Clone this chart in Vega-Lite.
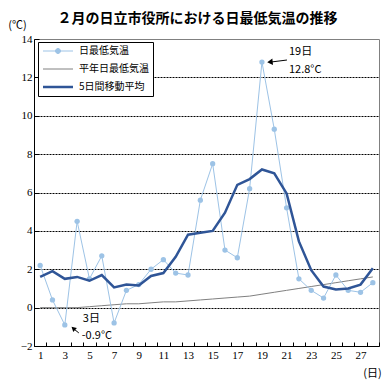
{
  "$schema": "https://vega.github.io/schema/vega-lite/v6.json",
  "width": 345,
  "height": 307,
  "autosize": {"type": "none"},
  "padding": {"left": 34, "top": 39, "right": 9, "bottom": 44},
  "background": "white",
  "title": {
    "text": "２月の日立市役所における日最低気温の推移",
    "font": "Noto Sans CJK JP",
    "fontSize": 14,
    "fontWeight": "bold",
    "color": "black",
    "anchor": "middle",
    "frame": "group",
    "dx": -9,
    "offset": -18,
    "baseline": "alphabetic"
  },
  "config": {
    "view": {"stroke": "#808080", "strokeWidth": 1},
    "font": "Noto Sans CJK JP"
  },
  "datasets": {
    "temps": [
      {"day": 1, "series": "平年日最低気温", "value": 0.0},
      {"day": 2, "series": "平年日最低気温", "value": 0.0},
      {"day": 3, "series": "平年日最低気温", "value": 0.0},
      {"day": 4, "series": "平年日最低気温", "value": 0.0},
      {"day": 5, "series": "平年日最低気温", "value": 0.05},
      {"day": 6, "series": "平年日最低気温", "value": 0.1},
      {"day": 7, "series": "平年日最低気温", "value": 0.15},
      {"day": 8, "series": "平年日最低気温", "value": 0.2},
      {"day": 9, "series": "平年日最低気温", "value": 0.2},
      {"day": 10, "series": "平年日最低気温", "value": 0.25},
      {"day": 11, "series": "平年日最低気温", "value": 0.3},
      {"day": 12, "series": "平年日最低気温", "value": 0.3},
      {"day": 13, "series": "平年日最低気温", "value": 0.35},
      {"day": 14, "series": "平年日最低気温", "value": 0.4},
      {"day": 15, "series": "平年日最低気温", "value": 0.45},
      {"day": 16, "series": "平年日最低気温", "value": 0.5},
      {"day": 17, "series": "平年日最低気温", "value": 0.55},
      {"day": 18, "series": "平年日最低気温", "value": 0.6},
      {"day": 19, "series": "平年日最低気温", "value": 0.7},
      {"day": 20, "series": "平年日最低気温", "value": 0.8},
      {"day": 21, "series": "平年日最低気温", "value": 0.9},
      {"day": 22, "series": "平年日最低気温", "value": 1.0},
      {"day": 23, "series": "平年日最低気温", "value": 1.1},
      {"day": 24, "series": "平年日最低気温", "value": 1.2},
      {"day": 25, "series": "平年日最低気温", "value": 1.3},
      {"day": 26, "series": "平年日最低気温", "value": 1.4},
      {"day": 27, "series": "平年日最低気温", "value": 1.5},
      {"day": 28, "series": "平年日最低気温", "value": 1.6},
      {"day": 1, "series": "日最低気温", "value": 2.2},
      {"day": 2, "series": "日最低気温", "value": 0.4},
      {"day": 3, "series": "日最低気温", "value": -0.9},
      {"day": 4, "series": "日最低気温", "value": 4.5},
      {"day": 5, "series": "日最低気温", "value": 1.5},
      {"day": 6, "series": "日最低気温", "value": 2.7},
      {"day": 7, "series": "日最低気温", "value": -0.8},
      {"day": 8, "series": "日最低気温", "value": 0.9},
      {"day": 9, "series": "日最低気温", "value": 1.2},
      {"day": 10, "series": "日最低気温", "value": 2.0},
      {"day": 11, "series": "日最低気温", "value": 2.5},
      {"day": 12, "series": "日最低気温", "value": 1.8},
      {"day": 13, "series": "日最低気温", "value": 1.7},
      {"day": 14, "series": "日最低気温", "value": 5.6},
      {"day": 15, "series": "日最低気温", "value": 7.5},
      {"day": 16, "series": "日最低気温", "value": 3.0},
      {"day": 17, "series": "日最低気温", "value": 2.6},
      {"day": 18, "series": "日最低気温", "value": 6.2},
      {"day": 19, "series": "日最低気温", "value": 12.8},
      {"day": 20, "series": "日最低気温", "value": 9.3},
      {"day": 21, "series": "日最低気温", "value": 5.2},
      {"day": 22, "series": "日最低気温", "value": 1.5},
      {"day": 23, "series": "日最低気温", "value": 0.9},
      {"day": 24, "series": "日最低気温", "value": 0.5},
      {"day": 25, "series": "日最低気温", "value": 1.7},
      {"day": 26, "series": "日最低気温", "value": 0.9},
      {"day": 27, "series": "日最低気温", "value": 0.8},
      {"day": 28, "series": "日最低気温", "value": 1.3},
      {"day": 1, "series": "5日間移動平均", "value": 1.6},
      {"day": 2, "series": "5日間移動平均", "value": 1.9},
      {"day": 3, "series": "5日間移動平均", "value": 1.5},
      {"day": 4, "series": "5日間移動平均", "value": 1.6},
      {"day": 5, "series": "5日間移動平均", "value": 1.4},
      {"day": 6, "series": "5日間移動平均", "value": 1.7},
      {"day": 7, "series": "5日間移動平均", "value": 1.05},
      {"day": 8, "series": "5日間移動平均", "value": 1.2},
      {"day": 9, "series": "5日間移動平均", "value": 1.15},
      {"day": 10, "series": "5日間移動平均", "value": 1.65},
      {"day": 11, "series": "5日間移動平均", "value": 1.8},
      {"day": 12, "series": "5日間移動平均", "value": 2.65},
      {"day": 13, "series": "5日間移動平均", "value": 3.8},
      {"day": 14, "series": "5日間移動平均", "value": 3.9},
      {"day": 15, "series": "5日間移動平均", "value": 4.0},
      {"day": 16, "series": "5日間移動平均", "value": 4.95},
      {"day": 17, "series": "5日間移動平均", "value": 6.4},
      {"day": 18, "series": "5日間移動平均", "value": 6.7},
      {"day": 19, "series": "5日間移動平均", "value": 7.2},
      {"day": 20, "series": "5日間移動平均", "value": 7.0},
      {"day": 21, "series": "5日間移動平均", "value": 5.95},
      {"day": 22, "series": "5日間移動平均", "value": 3.45},
      {"day": 23, "series": "5日間移動平均", "value": 1.95},
      {"day": 24, "series": "5日間移動平均", "value": 1.1},
      {"day": 25, "series": "5日間移動平均", "value": 0.95},
      {"day": 26, "series": "5日間移動平均", "value": 1.0},
      {"day": 27, "series": "5日間移動平均", "value": 1.2},
      {"day": 28, "series": "5日間移動平均", "value": 2.05}
    ],
    "notes": [
      {"day": 19, "value": 12.8, "date": "19日", "temp": "12.8°C"},
      {"day": 3, "value": -0.9, "date": "3日", "temp": "-0.9°C"}
    ]
  },
  "encoding": {
    "x": {
      "field": "day",
      "type": "quantitative",
      "scale": {"domain": [0.5, 28.5], "nice": false, "zero": false},
      "axis": {
        "values": [0.5, 1.5, 2.5, 3.5, 4.5, 5.5, 6.5, 7.5, 8.5, 9.5, 10.5, 11.5, 12.5, 13.5, 14.5, 15.5, 16.5, 17.5, 18.5, 19.5, 20.5, 21.5, 22.5, 23.5, 24.5, 25.5, 26.5, 27.5, 28.5],
        "labelExpr": "(datum.value - 0.5) % 2 == 1 ? format(datum.value - 0.5, 'd') : ''",
        "labelOffset": -6.16,
        "labelOverlap": false,
        "labelBound": false,
        "labelFlush": false,
        "labelFont": "Liberation Serif",
        "labelFontSize": 11,
        "labelColor": "black",
        "labelPadding": 7,
        "grid": false,
        "domainColor": "black",
        "domainWidth": 1,
        "tickColor": "black",
        "tickSize": -4,
        "title": "(日)",
        "titleFont": "Noto Sans CJK JP",
        "titleFontSize": 11,
        "titleFontWeight": "normal",
        "titleColor": "black",
        "titleX": 338,
        "titleY": 27,
        "titleAlign": "center",
        "titleBaseline": "middle"
      }
    },
    "y": {
      "field": "value",
      "type": "quantitative",
      "scale": {"domain": [-2, 14], "nice": false, "zero": false},
      "axis": {
        "values": [-2, 0, 2, 4, 6, 8, 10, 12, 14],
        "labelFont": "Liberation Serif",
        "labelFontSize": 11,
        "labelColor": "black",
        "labelPadding": 7,
        "domainColor": "black",
        "domainWidth": 1,
        "tickColor": "black",
        "tickSize": -5,
        "grid": true,
        "gridColor": "black",
        "gridDash": [2, 1],
        "gridOpacity": {"condition": {"test": "datum.value >= 14 || datum.value <= -2", "value": 0}, "value": 1},
        "title": "(℃)",
        "titleAngle": 0,
        "titleFont": "Noto Sans CJK JP",
        "titleFontSize": 11,
        "titleFontWeight": "normal",
        "titleColor": "black",
        "titleX": -17,
        "titleY": -14,
        "titleAlign": "center",
        "titleBaseline": "middle"
      }
    }
  },
  "layer": [
    {
      "data": {"name": "temps"},
      "transform": [{"filter": "datum.series == '平年日最低気温'"}],
      "mark": {"type": "line", "strokeWidth": 1},
      "encoding": {
        "color": {
          "field": "series",
          "type": "nominal",
          "scale": {"domain": ["日最低気温", "平年日最低気温", "5日間移動平均"], "range": ["#9DC3E6", "#808080", "#2F5597"]},
          "legend": {
            "title": null,
            "orient": "none",
            "legendX": 4,
            "legendY": 3,
            "direction": "vertical",
            "fillColor": "white",
            "strokeColor": "black",
            "padding": 4,
            "rowPadding": 8,
            "symbolSize": 16,
            "symbolType": "M-2,0H13",
            "labelOffset": 27,
            "labelFont": "Noto Sans CJK JP",
            "labelFontSize": 10,
            "labelColor": "black",
            "encode": {
              "symbols": {
                "update": {
                  "shape": {"signal": "datum.label == '日最低気温' ? 'M-2,0H13M6.75,0A1.25,1.25,0,1,1,4.25,0A1.25,1.25,0,1,1,6.75,0' : 'M-2,0H13'"},
                  "strokeWidth": {"signal": "datum.label == '5日間移動平均' ? 2.5 : 1"},
                  "fill": {"signal": "datum.label == '日最低気温' ? '#9DC3E6' : 'transparent'"}
                }
              }
            }
          }
        }
      }
    },
    {
      "data": {"name": "temps"},
      "transform": [{"filter": "datum.series == '日最低気温'"}],
      "mark": {"type": "line", "strokeWidth": 1},
      "encoding": {
        "color": {"field": "series", "type": "nominal"}
      }
    },
    {
      "data": {"name": "temps"},
      "transform": [{"filter": "datum.series == '日最低気温'"}],
      "mark": {"type": "point", "filled": true, "size": 28, "opacity": 1, "color": "#9DC3E6"}
    },
    {
      "data": {"name": "temps"},
      "transform": [{"filter": "datum.series == '5日間移動平均'"}],
      "mark": {"type": "line", "strokeWidth": 2.5},
      "encoding": {
        "color": {"field": "series", "type": "nominal"}
      }
    },
    {
      "data": {"name": "notes"},
      "transform": [{"filter": "datum.day == 19"}],
      "layer": [
        {"mark": {"type": "text", "align": "left", "baseline": "middle", "dx": 27, "dy": -10, "fontSize": 11, "font": "Noto Sans CJK JP", "color": "black"}, "encoding": {"text": {"field": "date"}}},
        {"mark": {"type": "text", "align": "left", "baseline": "middle", "dx": 27, "dy": 8, "fontSize": 11, "font": "Noto Sans CJK JP", "color": "black"}, "encoding": {"text": {"field": "temp"}}},
        {"mark": {"type": "rule", "color": "black", "strokeWidth": 1, "xOffset": 9, "x2Offset": 25, "yOffset": 0, "y2Offset": -2}, "encoding": {"x2": {"field": "day"}, "y2": {"field": "value"}}},
        {"mark": {"type": "point", "shape": "triangle-left", "filled": true, "color": "black", "opacity": 1, "size": 40, "xOffset": 8, "angle": -6}}
      ]
    },
    {
      "data": {"name": "notes"},
      "transform": [{"filter": "datum.day == 3"}],
      "layer": [
        {"mark": {"type": "text", "align": "left", "baseline": "middle", "dx": 18, "dy": -6, "fontSize": 11, "font": "Noto Sans CJK JP", "color": "black"}, "encoding": {"text": {"field": "date"}}},
        {"mark": {"type": "text", "align": "left", "baseline": "middle", "dx": 17, "dy": 11, "fontSize": 11, "font": "Noto Sans CJK JP", "color": "black"}, "encoding": {"text": {"field": "temp"}}},
        {"mark": {"type": "rule", "color": "black", "strokeWidth": 1, "xOffset": 9, "x2Offset": 14, "yOffset": 4, "y2Offset": 8}, "encoding": {"x2": {"field": "day"}, "y2": {"field": "value"}}},
        {"mark": {"type": "point", "shape": "triangle-up", "filled": true, "color": "black", "opacity": 1, "size": 30, "xOffset": 8.5, "yOffset": 3.5, "angle": -49}}
      ]
    }
  ]
}
